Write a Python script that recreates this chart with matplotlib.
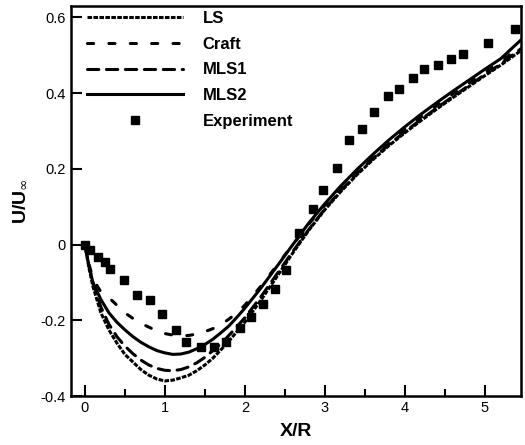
import matplotlib
matplotlib.use("Agg")
import matplotlib.pyplot as plt
from matplotlib.ticker import MultipleLocator

plt.rcParams['font.family'] = ['Liberation Sans', 'DejaVu Sans']

# Experiment
exp_x = [0.0, 0.07, 0.16, 0.25, 0.32, 0.49, 0.65, 0.81, 0.96, 1.14, 1.27, 1.45, 1.61,
         1.77, 1.94, 2.08, 2.23, 2.38, 2.52, 2.68, 2.85, 2.98, 3.15, 3.30, 3.47, 3.62,
         3.79, 3.93, 4.10, 4.24, 4.41, 4.58, 4.73, 5.04, 5.375]
exp_y = [0.0, -0.015, -0.032, -0.046, -0.064, -0.093, -0.132, -0.147, -0.183, -0.226,
         -0.257, -0.270, -0.271, -0.257, -0.219, -0.190, -0.156, -0.118, -0.068, 0.031,
         0.095, 0.143, 0.203, 0.276, 0.305, 0.349, 0.392, 0.410, 0.441, 0.463, 0.474,
         0.489, 0.502, 0.531, 0.570]

cx = [0, 0.05, 0.1, 0.2, 0.3, 0.4, 0.5, 0.6, 0.7, 0.8, 0.9, 1.0, 1.1, 1.2, 1.3, 1.4,
      1.5, 1.6, 1.7, 1.8, 1.9, 2.0, 2.2, 2.4, 2.6, 2.8, 3.0, 3.2, 3.4, 3.6, 3.8, 4.0,
      4.2, 4.4, 4.6, 4.8, 5.0, 5.2, 5.45]

ls_y = [0, -0.06, -0.11, -0.18, -0.225, -0.26, -0.29, -0.31, -0.33, -0.345, -0.355,
        -0.36, -0.358, -0.352, -0.345, -0.333, -0.318, -0.30, -0.278, -0.255, -0.23,
        -0.205, -0.147, -0.085, -0.022, 0.038, 0.092, 0.14, 0.184, 0.224, 0.261, 0.295,
        0.327, 0.358, 0.388, 0.417, 0.446, 0.474, 0.512]
craft_y = [0, -0.05, -0.09, -0.125, -0.14, -0.16, -0.18, -0.195, -0.208, -0.218, -0.228,
           -0.235, -0.239, -0.241, -0.240, -0.236, -0.230, -0.222, -0.211, -0.197, -0.18,
           -0.16, -0.11, -0.055, 0.0, 0.054, 0.104, 0.15, 0.193, 0.233, 0.27, 0.304,
           0.336, 0.367, 0.397, 0.426, 0.455, 0.483, 0.525]
mls1_y = [0, -0.055, -0.10, -0.165, -0.21, -0.243, -0.268, -0.288, -0.305, -0.318, -0.327,
          -0.332, -0.333, -0.330, -0.323, -0.312, -0.298, -0.28, -0.262, -0.24, -0.217,
          -0.193, -0.138, -0.078, -0.018, 0.04, 0.094, 0.143, 0.187, 0.227, 0.264, 0.298,
          0.33, 0.361, 0.391, 0.42, 0.449, 0.477, 0.517]
mls2_y = [0, -0.055, -0.10, -0.145, -0.18, -0.205, -0.225, -0.243, -0.258, -0.27, -0.28,
          -0.286, -0.29, -0.289, -0.284, -0.275, -0.264, -0.25, -0.233, -0.215, -0.192,
          -0.168, -0.115, -0.058, 0.0, 0.057, 0.108, 0.155, 0.198, 0.238, 0.276, 0.311,
          0.344, 0.375, 0.405, 0.434, 0.463, 0.491, 0.54]

fig = plt.figure(figsize=(5.25, 4.45), dpi=100)
ax = fig.add_axes([0.135, 0.110, 0.857, 0.8765])

lw = 2.2
ax.plot(cx, ls_y, color='black', lw=lw, dashes=(1.5, 0.45), dash_capstyle='butt', label='LS')
ax.plot(cx, craft_y, color='black', lw=lw, dashes=(2.0, 5.0), dash_capstyle='round', label='Craft')
ax.plot(cx, mls1_y, color='black', lw=lw, dashes=(3.7, 2.5), dash_capstyle='round', label='MLS1')
ax.plot(cx, mls2_y, color='black', lw=lw, label='MLS2')
ax.plot(exp_x, exp_y, 's', color='black', ms=6, mec='black', ls='none', label='Experiment')

ax.set_xlim(-0.175, 5.45)
ax.set_ylim(-0.4, 0.63)
ax.xaxis.set_major_locator(MultipleLocator(1))
ax.xaxis.set_minor_locator(MultipleLocator(0.5))
ax.tick_params(which='both', direction='in', top=False, right=False, labelsize=10.5, width=1.5)
ax.tick_params(which='major', length=8)
ax.tick_params(which='minor', length=5)
ax.set_yticks([-0.4, -0.2, 0, 0.2, 0.4, 0.6])
ax.set_yticklabels(['-0.4', '-0.2', '0', '0.2', '0.4', '0.6'])
for s in ax.spines.values():
    s.set_linewidth(1.8)

ax.set_xlabel('X/R', fontsize=14, fontweight='bold', labelpad=6)
ax.set_ylabel(r'U/U$_{\infty}$', fontsize=14, fontweight='bold', labelpad=9)

leg = ax.legend(loc='upper left', bbox_to_anchor=(0.0356, 0.987), frameon=False,
                handlelength=5.75, handletextpad=1.2, labelspacing=0.64,
                borderaxespad=0, borderpad=0, prop={'weight': 'bold', 'size': 12})

fig.savefig('out.png', dpi=100)
